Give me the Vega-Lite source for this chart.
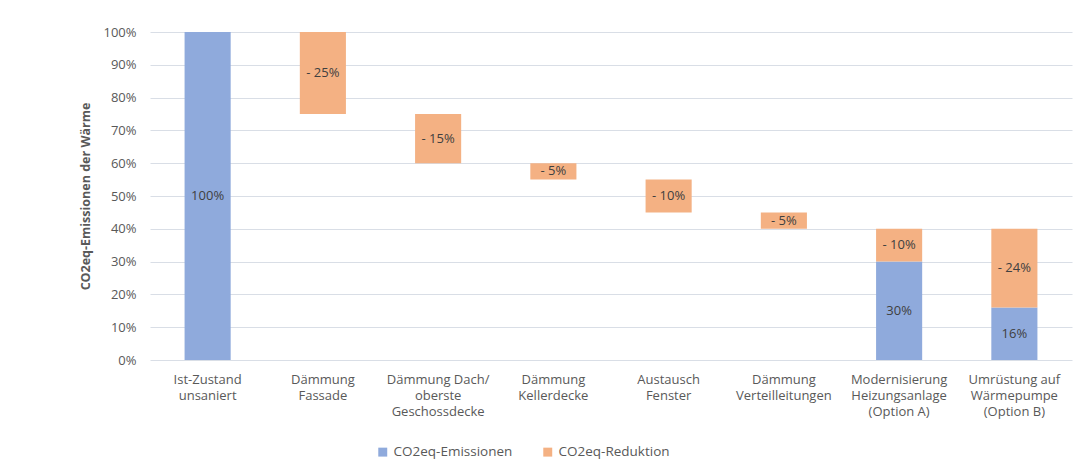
{
  "$schema": "https://vega.github.io/schema/vega-lite/v6.json",
  "autosize": {"type": "none"},
  "width": 922,
  "height": 328,
  "padding": {"left": 150, "top": 32, "right": 8, "bottom": 112},
  "background": "white",
  "config": {
    "view": {"stroke": null},
    "font": "Open Sans",
    "axis": {"labelColor": "#595959", "labelFontSize": 13, "titleColor": "#595959"}
  },
  "data": {
    "values": [
      {"kategorie": "Ist-Zustand|unsaniert", "typ": "CO2eq-Emissionen", "von": 0, "bis": 1.0, "text": "100%"},
      {"kategorie": "Dämmung|Fassade", "typ": "CO2eq-Reduktion", "von": 0.75, "bis": 1.0, "text": "- 25%"},
      {"kategorie": "Dämmung Dach/|oberste|Geschossdecke", "typ": "CO2eq-Reduktion", "von": 0.60, "bis": 0.75, "text": "- 15%"},
      {"kategorie": "Dämmung|Kellerdecke", "typ": "CO2eq-Reduktion", "von": 0.55, "bis": 0.60, "text": "- 5%"},
      {"kategorie": "Austausch|Fenster", "typ": "CO2eq-Reduktion", "von": 0.45, "bis": 0.55, "text": "- 10%"},
      {"kategorie": "Dämmung|Verteilleitungen", "typ": "CO2eq-Reduktion", "von": 0.40, "bis": 0.45, "text": "- 5%"},
      {"kategorie": "Modernisierung|Heizungsanlage|(Option A)", "typ": "CO2eq-Emissionen", "von": 0, "bis": 0.30, "text": "30%"},
      {"kategorie": "Modernisierung|Heizungsanlage|(Option A)", "typ": "CO2eq-Reduktion", "von": 0.30, "bis": 0.40, "text": "- 10%"},
      {"kategorie": "Umrüstung auf|Wärmepumpe|(Option B)", "typ": "CO2eq-Emissionen", "von": 0, "bis": 0.16, "text": "16%"},
      {"kategorie": "Umrüstung auf|Wärmepumpe|(Option B)", "typ": "CO2eq-Reduktion", "von": 0.16, "bis": 0.40, "text": "- 24%"}
    ]
  },
  "encoding": {
    "x": {
      "field": "kategorie",
      "type": "nominal",
      "sort": null,
      "scale": {"paddingInner": 0.6, "paddingOuter": 0.3},
      "axis": {
        "title": null,
        "labelAngle": 0,
        "labelExpr": "split(datum.label, '|')",
        "labelLineHeight": 16,
        "labelPadding": 13,
        "ticks": false,
        "domain": false,
        "labelLimit": 200
      }
    }
  },
  "layer": [
    {
      "mark": {"type": "bar"},
      "encoding": {
        "y": {
          "field": "von",
          "type": "quantitative",
          "scale": {"domain": [0, 1]},
          "axis": {
            "title": "CO2eq-Emissionen der Wärme",
            "titleFontWeight": "bold",
            "titleFontSize": 12.5,
            "titlePadding": 10,
            "format": ".0%",
            "tickCount": 10,
            "ticks": false,
            "domain": false,
            "labelPadding": 14,
            "gridColor": "#D9DEE6"
          }
        },
        "y2": {"field": "bis"},
        "color": {
          "field": "typ",
          "type": "nominal",
          "scale": {"domain": ["CO2eq-Emissionen", "CO2eq-Reduktion"], "range": ["#8FAADC", "#F4B183"]},
          "legend": {
            "title": null,
            "orient": "none",
            "legendX": 226,
            "legendY": 413,
            "direction": "horizontal",
            "symbolType": "square",
            "symbolSize": 80,
            "symbolStrokeWidth": 0,
            "labelFontSize": 13.5,
            "labelColor": "#595959",
            "columnPadding": 28
          }
        }
      }
    },
    {
      "transform": [{"calculate": "(datum.von + datum.bis) / 2", "as": "mitte"}],
      "mark": {"type": "text", "fontSize": 13, "color": "#404040"},
      "encoding": {
        "y": {"field": "mitte", "type": "quantitative"},
        "text": {"field": "text"}
      }
    }
  ]
}
